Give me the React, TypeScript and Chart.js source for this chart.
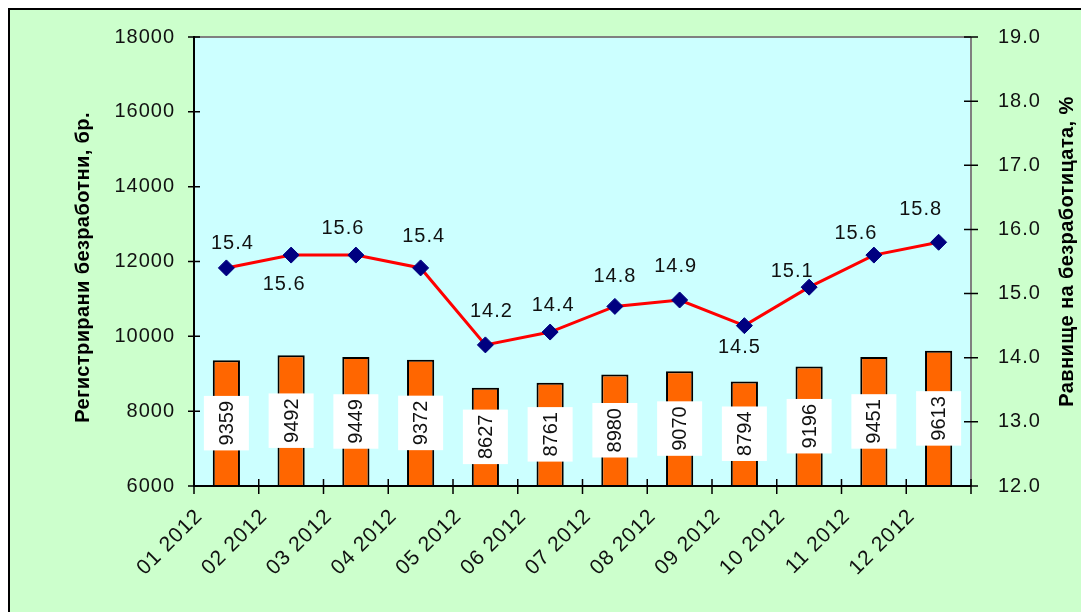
import React, { useEffect, useRef } from "react";
import { Chart, registerables } from "chart.js";

Chart.register(...registerables);

const months = ["01 2012", "02 2012", "03 2012", "04 2012", "05 2012", "06 2012", "07 2012", "08 2012", "09 2012", "10 2012", "11 2012", "12 2012"];
const registered = [9359, 9492, 9449, 9372, 8627, 8761, 8980, 9070, 8794, 9196, 9451, 9613];
const rate = [15.4, 15.6, 15.6, 15.4, 14.2, 14.4, 14.8, 14.9, 14.5, 15.1, 15.6, 15.8];
const leftTicks = [6000, 8000, 10000, 12000, 14000, 16000, 18000];
const rightTicks = [12, 13, 14, 15, 16, 17, 18, 19];
const leftTitle = "Регистрирани безработни, бр.";
const rightTitle = "Равнище на безработицата, %";

const FONT = "'Liberation Sans', Arial, sans-serif";
const TEXT = "#111111";

// label nudges [dx, dy] relative to the point (annotation placement)
const rateLabelNudge = [
  [6, -24], [-7, 29], [-13, -27], [3, -31], [6, -33], [3, -27],
  [0, -30], [-4, -34], [-5, 22], [-17, -16], [-18, -22], [-18, -33],
];

const decorPlugin = {
  id: "decor",
  beforeDraw(chart: any) {
    const { ctx, chartArea: ca, width, height } = chart;
    ctx.save();
    ctx.fillStyle = "#CCFFCC";
    ctx.fillRect(0, 0, width, height);
    ctx.fillStyle = "#CCFFFF";
    ctx.fillRect(ca.left, ca.top, ca.right - ca.left, ca.bottom - ca.top);
    ctx.restore();
    (ctx as any).letterSpacing = "1px";
  },
  afterDatasetsDraw(chart: any) {
    const { ctx, chartArea: ca } = chart;
    const x = chart.scales.x;
    const y = chart.scales.y;
    const y1 = chart.scales.y1;
    ctx.save();
    // bar value labels
    const barMeta = chart.getDatasetMeta(1);
    (ctx as any).letterSpacing = "0px";
    ctx.font = `20px ${FONT}`;
    barMeta.data.forEach((el: any, i: number) => {
      const base = Math.min(el.base, ca.bottom);
      const cy = (el.y + base) / 2;
      const txt = String(registered[i]);
      const tw = ctx.measureText(txt).width;
      const bh = tw + 10;
      const bw = 45;
      ctx.fillStyle = "#FFFFFF";
      ctx.fillRect(el.x - bw / 2, cy - bh / 2, bw, bh);
      ctx.save();
      ctx.translate(el.x, cy);
      ctx.rotate(-Math.PI / 2);
      ctx.fillStyle = TEXT;
      ctx.textAlign = "center";
      ctx.textBaseline = "middle";
      ctx.fillText(txt, 0, 1);
      ctx.restore();
    });

    // line labels
    (ctx as any).letterSpacing = "1px";
    const lineMeta = chart.getDatasetMeta(0);
    ctx.font = `20px ${FONT}`;
    ctx.fillStyle = TEXT;
    ctx.textAlign = "center";
    ctx.textBaseline = "middle";
    lineMeta.data.forEach((el: any, i: number) => {
      const [dx, dy] = rateLabelNudge[i];
      ctx.fillText(rate[i].toFixed(1), el.x + dx, el.y + dy);
    });

    // frame lines
    ctx.lineCap = "butt";
    ctx.strokeStyle = "#808080";
    ctx.lineWidth = 2;
    ctx.beginPath();
    ctx.moveTo(ca.left, ca.top);
    ctx.lineTo(ca.right, ca.top);
    ctx.moveTo(ca.right, ca.top);
    ctx.lineTo(ca.right, ca.bottom);
    ctx.stroke();

    ctx.strokeStyle = "#000000";
    ctx.beginPath();
    ctx.moveTo(ca.left, ca.top - 1);
    ctx.lineTo(ca.left, ca.bottom + 1);
    ctx.moveTo(ca.left, ca.bottom);
    ctx.lineTo(ca.right, ca.bottom);
    ctx.stroke();

    ctx.lineWidth = 1.5;
    ctx.beginPath();
    leftTicks.forEach((v) => {
      const py = y.getPixelForValue(v);
      ctx.moveTo(ca.left - 6, py);
      ctx.lineTo(ca.left + 6, py);
    });
    rightTicks.forEach((v) => {
      const py = y1.getPixelForValue(v);
      ctx.moveTo(ca.right - 7, py);
      ctx.lineTo(ca.right + 7, py);
    });
    for (let i = 0; i <= months.length; i++) {
      const px = x.getPixelForValue(i - 0.5);
      ctx.moveTo(px, ca.bottom - 7);
      ctx.lineTo(px, ca.bottom + 8);
    }
    ctx.stroke();

    // axis titles
    ctx.font = `bold 20px ${FONT}`;
    (ctx as any).letterSpacing = "0.4px";
    ctx.fillStyle = "#000000";
    ctx.textAlign = "center";
    ctx.textBaseline = "middle";
    ctx.save();
    ctx.translate(73, (ca.top + ca.bottom) / 2 + 6);
    ctx.rotate(-Math.PI / 2);
    ctx.fillText(leftTitle, 0, 0);
    ctx.restore();
    ctx.save();
    ctx.translate(1057, (ca.top + ca.bottom) / 2 - 10);
    ctx.rotate(-Math.PI / 2);
    ctx.fillText(rightTitle, 0, 0);
    ctx.restore();
    ctx.restore();
    (ctx as any).letterSpacing = "1px";
  },
};

const hiddenTickGrid = (len: number) => ({
  display: true,
  drawOnChartArea: false,
  drawTicks: true,
  tickLength: len,
  tickColor: "rgba(0,0,0,0)",
  color: "rgba(0,0,0,0)",
});

export default function App() {
  const ref = useRef<HTMLCanvasElement | null>(null);
  useEffect(() => {
    if (!ref.current) return;
    const chart = new Chart(ref.current, {
      type: "bar",
      data: {
        labels: months,
        datasets: [
          {
            type: "line",
            label: "rate",
            data: rate,
            yAxisID: "y1",
            borderColor: "#FF0000",
            borderWidth: 3,
            pointStyle: "rectRot",
            pointRadius: 8,
            pointBackgroundColor: "#000080",
            pointBorderColor: "#000080",
            pointBorderWidth: 1,
            tension: 0,
            order: 0,
          } as any,
          {
            type: "bar",
            label: "registered",
            data: registered,
            yAxisID: "y",
            backgroundColor: "#FF6600",
            borderColor: "#000000",
            borderWidth: 2,
            borderSkipped: false,
            barPercentage: 0.42,
            categoryPercentage: 1,
            order: 1,
          },
        ],
      },
      options: {
        animation: false,
        responsive: false,
        maintainAspectRatio: false,
        layout: { padding: { top: 27, left: 0, right: 0, bottom: 0 } },
        plugins: { legend: { display: false }, tooltip: { enabled: false } },
        scales: {
          x: {
            type: "category",
            offset: true,
            grid: { ...hiddenTickGrid(18), offset: true },
            border: { display: false },
            ticks: {
              autoSkip: false,
              minRotation: 45,
              maxRotation: 45,
              labelOffset: -27,
              padding: 0,
              color: TEXT,
              font: { family: FONT, size: 21 },
            },
            afterFit: (s: any) => {
              s.height = 126;
            },
          },
          y: {
            position: "left",
            min: 6000,
            max: 18000,
            grid: hiddenTickGrid(19),
            border: { display: false },
            ticks: {
              stepSize: 2000,
              padding: 0,
              color: TEXT,
              font: { family: FONT, size: 20 },
              callback: (v: any) => String(v),
            },
            afterFit: (s: any) => {
              s.width = 184;
            },
          },
          y1: {
            position: "right",
            min: 12,
            max: 19,
            grid: hiddenTickGrid(27),
            border: { display: false },
            ticks: {
              stepSize: 1,
              padding: 0,
              color: TEXT,
              font: { family: FONT, size: 20 },
              callback: (v: any) => Number(v).toFixed(1),
            },
            afterFit: (s: any) => {
              s.width = 110;
            },
          },
        },
      },
      plugins: [decorPlugin],
    });
    return () => chart.destroy();
  }, []);

  return (
    <div
      style={{
        position: "fixed",
        left: 8,
        top: 8,
        width: 1073,
        height: 604,
        borderLeft: "2px solid #000",
        borderTop: "2px solid #000",
        boxSizing: "border-box",
        overflow: "hidden",
        background: "#CCFFCC",
      }}
    >
      <canvas ref={ref} width={1071} height={602} style={{ display: "block" }} />
    </div>
  );
}
